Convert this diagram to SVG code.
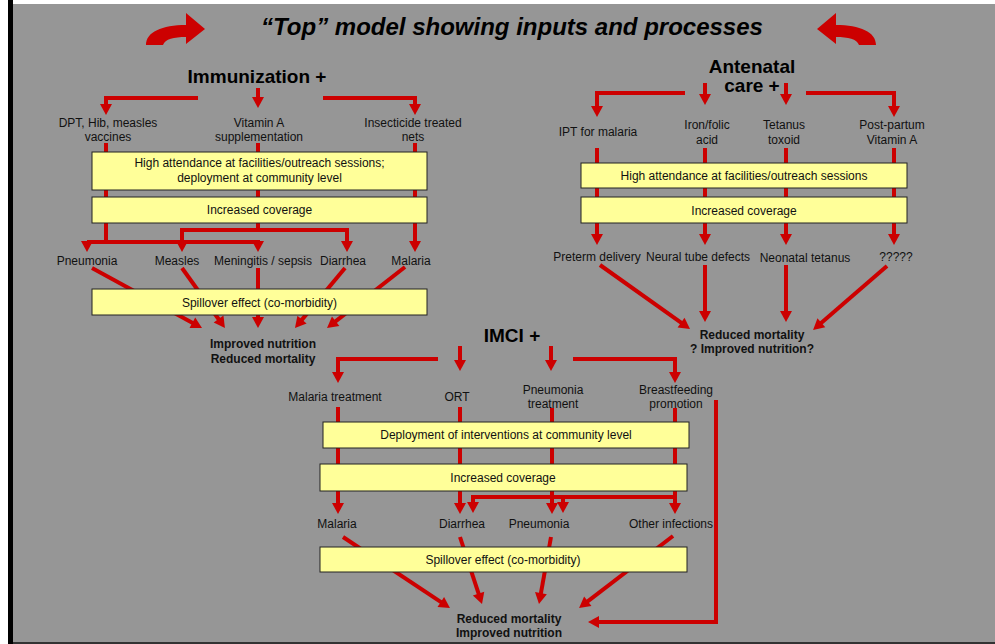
<svg xmlns="http://www.w3.org/2000/svg" width="995" height="644" viewBox="0 0 995 644">
<style>
.bg{fill:#969696}
.box{fill:#ffff99;stroke:#222;stroke-width:1}
.t{font-family:"Liberation Sans",Arial,sans-serif;font-size:12px;fill:#111;text-anchor:middle}
.b{font-weight:bold}
.h{font-size:19px;font-weight:bold;fill:#000}
.c{fill:none;stroke:#cc0000;stroke-width:4;stroke-linejoin:miter}
.a{marker-end:url(#ah)}
.curl{fill:#cc0000}
</style>
<defs>
<marker id="ah" markerUnits="userSpaceOnUse" markerWidth="11" markerHeight="12" viewBox="0 0 11 12" refX="3" refY="6" orient="auto" overflow="visible">
<path d="M0,0 L11,6 L0,12 z" fill="#cc0000"/>
</marker>
</defs>
<rect x="0" y="0" width="995" height="644" fill="#ffffff"/>
<rect class="bg" x="13" y="4" width="982" height="638"/>
<rect x="8" y="0" width="5" height="644" fill="#000"/>
<rect x="13" y="642" width="982" height="2" fill="#333"/>

<g id="title">
<path class="curl" d="M146,45 C146,32 162,25 186,25 L186,13 L205,29 L186,44 L186,37 C174,37 165,39 163,45 Z"/>
<path class="curl" transform="matrix(-1 0 0 1 1022 0)" d="M146,45 C146,32 162,25 186,25 L186,13 L205,29 L186,44 L186,37 C174,37 165,39 163,45 Z"/>
<text class="t b" x="512" y="35" style="font-size:24px;font-style:italic;fill:#000">“Top” model showing inputs and processes</text>
</g>

<g id="connectors">
<!-- Immunization -->
<polyline class="c a" points="198,98 106,98 106,107"/>
<line class="c a" x1="258" y1="88" x2="258" y2="100"/>
<polyline class="c a" points="323,98 415,98 415,107"/>
<line class="c" x1="106" y1="143" x2="106" y2="242"/>
<line class="c" x1="87" y1="242" x2="260" y2="242"/>
<line class="c a" x1="87" y1="242" x2="87" y2="244"/>
<line class="c a" x1="258" y1="242" x2="258" y2="244"/>
<line class="c" x1="258" y1="143" x2="258" y2="230"/>
<line class="c" x1="180" y1="230" x2="349" y2="230"/>
<line class="c a" x1="182" y1="230" x2="182" y2="244"/>
<line class="c a" x1="347" y1="230" x2="347" y2="244"/>
<line class="c a" x1="415" y1="143" x2="415" y2="244"/>
<line class="c a" x1="92" y1="268" x2="195" y2="324.2"/>
<line class="c a" x1="182" y1="268" x2="220.3" y2="321.5"/>
<line class="c a" x1="258" y1="268" x2="258" y2="320"/>
<line class="c a" x1="345" y1="268" x2="300.1" y2="321.9"/>
<line class="c a" x1="405" y1="267" x2="333.3" y2="323.1"/>
<!-- Antenatal -->
<polyline class="c a" points="685,93 597,93 597,109"/>
<line class="c a" x1="705" y1="83" x2="705" y2="97"/>
<line class="c a" x1="786" y1="83" x2="786" y2="97"/>
<polyline class="c a" points="806,93 894,93 894,109"/>
<line class="c a" x1="597" y1="148" x2="597" y2="237"/>
<line class="c a" x1="705" y1="148" x2="705" y2="237"/>
<line class="c a" x1="786" y1="148" x2="786" y2="237"/>
<line class="c a" x1="894" y1="148" x2="894" y2="237"/>
<line class="c a" x1="600" y1="265" x2="683.5" y2="324.4"/>
<line class="c a" x1="705" y1="265" x2="705" y2="314"/>
<line class="c a" x1="786" y1="265" x2="786" y2="314"/>
<line class="c a" x1="887" y1="266" x2="819.1" y2="324.8"/>
<!-- IMCI -->
<polyline class="c a" points="438,359 338,359 338,375"/>
<line class="c a" x1="460" y1="346" x2="460" y2="363"/>
<line class="c a" x1="551" y1="346" x2="551" y2="363"/>
<polyline class="c a" points="573,359 675,359 675,375"/>
<line class="c a" x1="338" y1="407" x2="338" y2="506"/>
<line class="c a" x1="460" y1="407" x2="460" y2="506"/>
<line class="c a" x1="552" y1="408" x2="552" y2="506"/>
<line class="c a" x1="675" y1="408" x2="675" y2="506"/>
<line class="c" x1="675" y1="497" x2="471" y2="497"/>
<line class="c a" x1="473" y1="497" x2="473" y2="505"/>
<line class="c a" x1="563" y1="497" x2="563" y2="505"/>
<polyline class="c a" points="716,400 716,622 596,622"/>
<line class="c a" x1="343" y1="537" x2="443.3" y2="603.6"/>
<line class="c a" x1="460" y1="537" x2="479.5" y2="596.4"/>
<line class="c a" x1="551" y1="537" x2="540.4" y2="596.1"/>
<line class="c a" x1="673" y1="536" x2="585.4" y2="603.1"/>
</g>

<!-- Immunization nodes -->
<g id="imm-head"><text class="t h" x="257" y="83">Immunization +</text></g>
<g id="imm-dpt"><text class="t" x="108" y="127">DPT, Hib, measles</text><text class="t" x="108" y="141">vaccines</text></g>
<g id="imm-vita"><text class="t" x="259" y="127">Vitamin A</text><text class="t" x="259" y="141">supplementation</text></g>
<g id="imm-itn"><text class="t" x="413" y="127">Insecticide treated</text><text class="t" x="413" y="141">nets</text></g>
<g id="imm-attend"><rect class="box" x="92" y="152" width="335" height="38"/><text class="t" x="259.5" y="167">High attendance at facilities/outreach sessions;</text><text class="t" x="259.5" y="182">deployment at community level</text></g>
<g id="imm-coverage"><rect class="box" x="92" y="197" width="335" height="26"/><text class="t" x="259.5" y="214">Increased coverage</text></g>
<g id="imm-pneumonia"><text class="t" x="87" y="265">Pneumonia</text></g>
<g id="imm-measles"><text class="t" x="177" y="265">Measles</text></g>
<g id="imm-meningitis"><text class="t" x="263" y="265">Meningitis / sepsis</text></g>
<g id="imm-diarrhea"><text class="t" x="343" y="265">Diarrhea</text></g>
<g id="imm-malaria"><text class="t" x="411" y="265">Malaria</text></g>
<g id="imm-spillover"><rect class="box" x="92" y="289" width="335" height="26"/><text class="t" x="259.5" y="307">Spillover effect (co-morbidity)</text></g>
<g id="imm-outcome"><text class="t b" x="263" y="348">Improved nutrition</text><text class="t b" x="263" y="363">Reduced mortality</text></g>

<!-- Antenatal nodes -->
<g id="anc-head"><text class="t h" x="752" y="73">Antenatal</text><text class="t h" x="752" y="92">care +</text></g>
<g id="anc-ipt"><text class="t" x="598" y="136">IPT for malaria</text></g>
<g id="anc-iron"><text class="t" x="707" y="129">Iron/folic</text><text class="t" x="707" y="144">acid</text></g>
<g id="anc-tt"><text class="t" x="784" y="129">Tetanus</text><text class="t" x="784" y="144">toxoid</text></g>
<g id="anc-ppva"><text class="t" x="892" y="129">Post-partum</text><text class="t" x="892" y="144">Vitamin A</text></g>
<g id="anc-attend"><rect class="box" x="581" y="163" width="326" height="25"/><text class="t" x="744" y="180">High attendance at facilities/outreach sessions</text></g>
<g id="anc-coverage"><rect class="box" x="581" y="197" width="326" height="26"/><text class="t" x="744" y="215">Increased coverage</text></g>
<g id="anc-preterm"><text class="t" x="597" y="261">Preterm delivery</text></g>
<g id="anc-ntd"><text class="t" x="698" y="261">Neural tube defects</text></g>
<g id="anc-nt"><text class="t" x="805" y="262">Neonatal tetanus</text></g>
<g id="anc-unknown"><text class="t" x="896" y="261">?????</text></g>
<g id="anc-outcome"><text class="t b" x="752" y="339">Reduced mortality</text><text class="t b" x="752" y="353">? Improved nutrition?</text></g>

<!-- IMCI nodes -->
<g id="imci-head"><text class="t h" x="512" y="342">IMCI +</text></g>
<g id="imci-malaria-tx"><text class="t" x="335" y="401">Malaria treatment</text></g>
<g id="imci-ort"><text class="t" x="457" y="401">ORT</text></g>
<g id="imci-pneu-tx"><text class="t" x="553" y="394">Pneumonia</text><text class="t" x="553" y="408">treatment</text></g>
<g id="imci-bf"><text class="t" x="676" y="394">Breastfeeding</text><text class="t" x="676" y="408">promotion</text></g>
<g id="imci-deploy"><rect class="box" x="323" y="422" width="366" height="26"/><text class="t" x="506" y="439">Deployment of interventions at community level</text></g>
<g id="imci-coverage"><rect class="box" x="320" y="464" width="367" height="27"/><text class="t" x="503" y="482">Increased coverage</text></g>
<g id="imci-malaria"><text class="t" x="337" y="528">Malaria</text></g>
<g id="imci-diarrhea"><text class="t" x="462" y="528">Diarrhea</text></g>
<g id="imci-pneumonia"><text class="t" x="539" y="528">Pneumonia</text></g>
<g id="imci-other"><text class="t" x="671" y="528">Other infections</text></g>
<g id="imci-spillover"><rect class="box" x="320" y="547" width="367" height="25"/><text class="t" x="503" y="564">Spillover effect (co-morbidity)</text></g>
<g id="imci-outcome"><text class="t b" x="509" y="623">Reduced mortality</text><text class="t b" x="509" y="637">Improved nutrition</text></g>
</svg>
